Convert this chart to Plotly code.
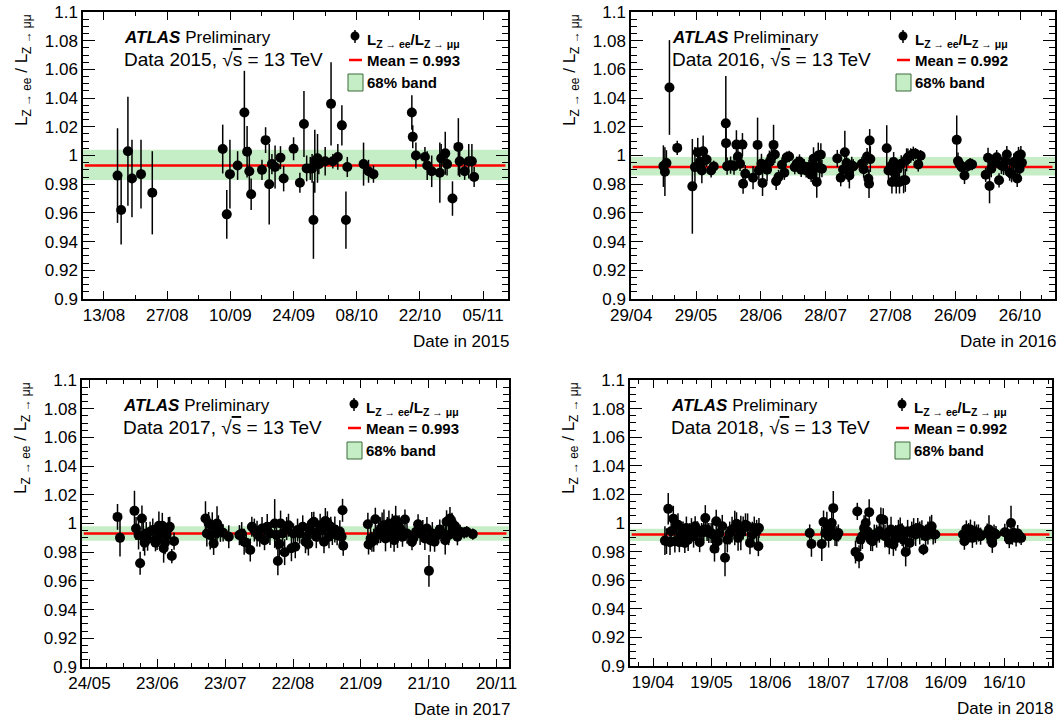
import pandas as pd
import plotly.graph_objects as go

W, H = 1062, 723
FONT = "Liberation Sans, Arial, Helvetica, sans-serif"

# ---------------------------------------------------------------- data
# time of each measurement, in days since 1 January of that year
doy_2015 = [227.0, 227.8, 229.3, 230.2, 232.2, 234.7, 250.3, 251.2, 251.9, 253.6,
            255.1, 255.7, 256.2, 256.6, 259.0, 259.8, 260.6, 261.2, 261.9, 263.1,
            263.8, 266.0, 267.4, 268.3, 268.9, 269.7, 270.1, 270.4, 270.7, 271.3,
            271.6, 273.0, 274.3, 274.7, 275.8, 276.7, 277.6, 277.9, 281.5, 282.6,
            283.7, 292.2, 292.4, 293.1, 295.1, 295.6, 296.6, 298.4, 298.7, 299.6,
            300.0, 301.2, 302.5, 302.8, 303.9, 304.8, 305.5, 306.0]
ratio_2015 = [0.986, 0.962, 1.003, 0.984, 0.987, 0.974, 1.0045, 0.959, 0.987, 0.993,
              1.030, 1.0026, 0.989, 0.973, 0.990, 1.0107, 0.980, 0.994, 0.992, 0.9985,
              0.984, 1.0047, 0.981, 1.022, 0.991, 0.991, 0.991, 0.955, 0.996, 0.998,
              0.994, 0.996, 1.036, 0.996, 0.999, 1.021, 0.955, 0.992, 0.994, 0.989,
              0.987, 1.030, 1.013, 1.000, 0.999, 0.993, 0.989, 0.988, 0.998, 1.0015,
              0.994, 0.970, 1.006, 0.996, 0.989, 0.996, 0.996, 0.985]
err_2015 = [0.033, 0.024, 0.038, 0.027, 0.024, 0.029, 0.017, 0.017, 0.024, 0.010,
            0.029, 0.018, 0.017, 0.011, 0.007, 0.009, 0.028, 0.007, 0.015, 0.008,
            0.009, 0.008, 0.007, 0.023, 0.009, 0.008, 0.010, 0.027, 0.022, 0.017,
            0.007, 0.010, 0.029, 0.005, 0.009, 0.014, 0.020, 0.007, 0.015, 0.008,
            0.006, 0.012, 0.008, 0.009, 0.007, 0.010, 0.011, 0.021, 0.010, 0.015,
            0.008, 0.012, 0.020, 0.011, 0.006, 0.012, 0.012, 0.007]

doy_2016 = [133.9, 134.6, 135.3, 136.7, 140.3, 147.3, 148.5, 149.8, 150.8, 151.7,
            152.3, 153.0, 153.9, 156.0, 157.2, 162.8, 162.9, 163.4, 165.0, 166.6,
            167.7, 168.4, 169.4, 170.5, 170.8, 171.8, 175.4, 177.5, 178.1, 179.3,
            179.8, 181.9, 183.0, 183.9, 184.9, 185.5, 186.1, 187.2, 188.8, 189.9,
            191.0, 192.1, 194.7, 195.6, 196.9, 197.7, 199.1, 200.0, 201.3, 202.3,
            203.4, 204.2, 204.9, 205.6, 206.2, 206.8, 207.3, 214.4, 216.0, 217.1,
            217.9, 218.7, 219.5, 220.0, 221.1, 221.8, 225.8, 226.6, 228.2, 228.8,
            229.1, 229.4, 229.7, 237.3, 238.1, 239.2, 239.7, 240.5, 241.1, 241.7,
            242.4, 243.2, 244.0, 245.1, 245.9, 246.5, 247.1, 248.4, 249.6, 250.6,
            251.9, 253.0, 269.7, 270.3, 271.1, 272.1, 273.3, 274.8, 275.9, 276.8,
            283.1, 284.2, 284.9, 285.7, 286.6, 287.4, 288.2, 289.3, 290.4, 291.4,
            292.3, 292.9, 294.2, 295.1, 296.1, 297.0, 297.7, 298.3, 298.8, 299.4,
            299.9]
ratio_2016 = [0.9926, 0.9887, 0.9947, 1.0474, 1.0053, 0.9785, 0.9919, 1.0023, 0.9956, 0.9896,
              1.0030, 0.9965, 0.9972, 0.9896, 0.9924, 1.0224, 1.0086, 0.9926, 0.9933, 0.9926,
              1.0076, 0.9993, 0.9942, 1.0076, 0.9803, 0.9873, 0.9845, 1.0074, 0.9896, 0.9942,
              0.9808, 0.9901, 0.9954, 0.9988, 1.0074, 1.0007, 0.9820, 0.9850, 0.9935, 0.9880,
              0.9988, 0.9993, 0.9919, 0.9942, 0.9958, 0.9901, 0.9924, 0.9896, 0.9919, 0.9866,
              0.9977, 0.9919, 0.9815, 1.0000, 0.9914, 1.0005, 0.9908, 0.9979, 0.9845, 0.9903,
              1.0023, 0.9947, 0.9896, 0.9861, 0.9931, 0.9924, 0.9942, 0.9905, 0.9993, 0.9838,
              0.9803, 1.0104, 0.9975, 1.0051, 0.9896, 0.9924, 0.9815, 0.9954, 0.9873, 0.9815,
              0.9908, 0.9815, 0.9942, 0.9827, 0.9827, 0.9970, 0.9988, 1.0000, 1.0012, 1.0012,
              0.9938, 0.9998, 1.0109, 0.9961, 0.9938, 0.9919, 0.9861, 0.9926, 0.9942, 0.9938,
              0.9866, 0.9984, 0.9787, 0.9908, 0.9942, 0.9954, 0.9988, 0.9827, 0.9931, 0.9924,
              0.9961, 1.0007, 0.9884, 0.9873, 0.9954, 0.9942, 0.9840, 1.0000, 0.9908, 1.0007,
              0.9949]
err_2016 = [0.0145, 0.017, 0.009, 0.033, 0.005, 0.033, 0.014, 0.010, 0.008, 0.009,
            0.011, 0.009, 0.005, 0.005, 0.004, 0.033, 0.012, 0.006, 0.006, 0.006,
            0.010, 0.007, 0.005, 0.008, 0.007, 0.006, 0.008, 0.019, 0.007, 0.007,
            0.009, 0.008, 0.008, 0.006, 0.014, 0.006, 0.006, 0.005, 0.005, 0.005,
            0.004, 0.004, 0.005, 0.005, 0.005, 0.005, 0.005, 0.005, 0.005, 0.005,
            0.008, 0.009, 0.011, 0.009, 0.008, 0.008, 0.006, 0.006, 0.006, 0.006,
            0.015, 0.006, 0.008, 0.009, 0.006, 0.005, 0.005, 0.006, 0.006, 0.006,
            0.010, 0.008, 0.009, 0.016, 0.006, 0.006, 0.008, 0.007, 0.006, 0.008,
            0.006, 0.008, 0.006, 0.009, 0.008, 0.008, 0.006, 0.005, 0.005, 0.004,
            0.005, 0.004, 0.017, 0.006, 0.005, 0.005, 0.006, 0.004, 0.004, 0.004,
            0.005, 0.007, 0.012, 0.006, 0.006, 0.006, 0.005, 0.005, 0.006, 0.006,
            0.006, 0.006, 0.006, 0.006, 0.006, 0.006, 0.006, 0.006, 0.006, 0.006,
            0.006]

doy_2017 = [155.4, 156.5, 162.9, 163.6, 164.7, 165.4, 166.2, 166.8, 167.4, 168.1,
            168.7, 169.8, 171.0, 172.2, 172.9, 173.7, 174.4, 175.2, 175.8, 176.4,
            177.1, 177.9, 178.5, 179.4, 180.4, 194.3, 194.9, 195.7, 196.4, 197.3,
            197.9, 198.8, 199.4, 200.0, 200.9, 202.1, 204.6, 209.3, 210.3, 211.4,
            212.3, 214.1, 214.8, 215.9, 217.1, 218.3, 219.3, 220.4, 221.6, 222.8,
            224.9, 225.7, 226.3, 226.9, 227.5, 228.4, 229.3, 230.2, 231.0, 232.3,
            233.2, 234.0, 235.0, 235.9, 237.3, 238.5, 239.2, 239.8, 240.4, 241.3,
            242.2, 243.3, 244.0, 245.0, 245.9, 246.7, 247.3, 248.2, 248.9, 249.7,
            250.4, 251.5, 252.5, 253.7, 254.5, 254.9, 255.2, 266.1, 266.4, 267.3,
            267.9, 268.7, 269.4, 270.2, 270.9, 271.7, 272.4, 273.2, 273.9, 274.7,
            275.4, 276.2, 276.9, 277.7, 278.4, 279.2, 279.9, 280.7, 281.4, 282.5,
            283.4, 285.6, 286.2, 287.4, 288.3, 289.2, 290.4, 291.3, 292.2, 293.1,
            293.7, 294.6, 295.6, 296.7, 297.9, 299.4, 300.3, 300.9, 301.8, 302.4,
            303.3, 303.9, 304.6, 305.7, 306.9, 308.7, 309.8, 312.5]
ratio_2017 = [1.0046, 0.9900, 1.0088, 0.9965, 0.9919, 0.9723, 1.0035, 0.9908, 0.9866, 0.9930,
              0.9890, 0.9942, 0.9954, 0.9866, 0.9896, 0.9984, 0.9930, 0.9984, 0.9827, 0.9866,
              0.9919, 0.9965, 0.9977, 0.9773, 0.9877, 1.0035, 0.9930, 1.0000, 0.9919, 0.9988,
              0.9861, 0.9930, 1.0000, 0.9977, 0.9942, 0.9935, 0.9908, 0.9919, 0.9930, 0.9873,
              0.9866, 0.9815, 0.9977, 0.9954, 0.9930, 0.9908, 0.9965, 0.9884, 0.9977, 0.9930,
              1.0000, 0.9919, 0.9739, 0.9857, 1.0000, 0.9930, 0.9800, 0.9965, 0.9988, 0.9827,
              0.9930, 0.9838, 0.9954, 0.9930, 0.9977, 0.9873, 0.9908, 0.9857, 0.9949, 1.0000,
              1.0012, 0.9908, 0.9942, 0.9988, 0.9954, 0.9873, 1.0018, 1.0005, 0.9908, 0.9977,
              0.9930, 0.9958, 0.9919, 0.9942, 0.9908, 1.0092, 0.9845, 0.9995, 0.9854, 0.9896,
              0.9873, 0.9884, 1.0030, 0.9919, 0.9942, 0.9954, 0.9977, 0.9988, 0.9896, 0.9965,
              1.0000, 0.9930, 0.9977, 0.9884, 1.0023, 0.9919, 0.9977, 0.9954, 0.9908, 1.0028,
              0.9930, 0.9873, 0.9896, 0.9942, 0.9995, 0.9930, 0.9954, 0.9896, 0.9965, 0.9670,
              0.9884, 0.9930, 0.9873, 0.9919, 0.9958, 0.9930, 0.9884, 1.0012, 0.9919, 1.0035,
              1.0005, 0.9965, 0.9982, 0.9908, 0.9942, 0.9935, 0.9942, 0.9926]
err_2017 = [0.009, 0.013, 0.014, 0.008, 0.010, 0.008, 0.009, 0.010, 0.009, 0.008,
            0.008, 0.007, 0.008, 0.006, 0.008, 0.010, 0.007, 0.009, 0.010, 0.008,
            0.008, 0.008, 0.007, 0.005, 0.006, 0.012, 0.009, 0.008, 0.010, 0.009,
            0.008, 0.010, 0.012, 0.008, 0.007, 0.006, 0.008, 0.007, 0.008, 0.009,
            0.007, 0.008, 0.007, 0.008, 0.009, 0.007, 0.008, 0.007, 0.009, 0.008,
            0.017, 0.010, 0.010, 0.010, 0.009, 0.010, 0.009, 0.008, 0.008, 0.009,
            0.007, 0.008, 0.008, 0.007, 0.008, 0.008, 0.009, 0.008, 0.007, 0.008,
            0.007, 0.008, 0.007, 0.008, 0.007, 0.008, 0.009, 0.008, 0.008, 0.007,
            0.008, 0.009, 0.007, 0.008, 0.007, 0.008, 0.007, 0.008, 0.007, 0.008,
            0.007, 0.008, 0.008, 0.007, 0.008, 0.009, 0.010, 0.011, 0.009, 0.008,
            0.009, 0.010, 0.009, 0.008, 0.010, 0.009, 0.008, 0.008, 0.007, 0.007,
            0.007, 0.006, 0.006, 0.007, 0.007, 0.008, 0.007, 0.008, 0.008, 0.011,
            0.008, 0.008, 0.007, 0.007, 0.007, 0.007, 0.010, 0.008, 0.007, 0.008,
            0.007, 0.007, 0.006, 0.006, 0.005, 0.004, 0.004, 0.004]

doy_2018 = [114.1, 114.9, 115.8, 116.7, 117.3, 118.4, 119.2, 119.9, 120.8, 121.5,
            122.5, 123.4, 124.3, 125.1, 126.0, 126.9, 127.7, 128.8, 129.6, 130.8,
            131.9, 132.9, 134.0, 134.8, 135.7, 136.6, 137.8, 138.6, 139.5, 140.4,
            141.2, 142.1, 143.5, 144.9, 146.1, 147.3, 148.5, 149.9, 150.8, 151.6,
            153.0, 154.2, 155.4, 156.5, 157.7, 158.9, 159.9, 161.1, 162.0, 162.3,
            188.3, 189.2, 194.5, 195.4, 196.3, 197.1, 198.0, 198.9, 199.6, 200.4,
            201.3, 202.2, 203.0, 211.8, 212.7, 213.6, 214.4, 215.3, 216.2, 217.0,
            217.9, 218.8, 219.6, 220.5, 221.4, 222.6, 224.0, 224.8, 226.0, 226.9,
            228.1, 229.1, 230.0, 231.2, 232.4, 233.8, 234.7, 235.7, 236.4, 237.5,
            238.5, 239.5, 240.6, 241.6, 242.6, 243.7, 244.7, 245.8, 246.6, 247.7,
            248.9, 249.9, 250.8, 251.6, 252.7, 266.9, 267.6, 268.6, 269.8, 270.7,
            271.7, 272.8, 273.8, 274.8, 275.9, 279.3, 280.2, 281.1, 281.9, 282.8,
            283.8, 288.3, 289.6, 290.6, 291.5, 292.2, 293.0, 294.1, 294.9, 295.8,
            296.7]
ratio_2018 = [0.9877, 0.9873, 1.0099, 0.9866, 0.9942, 1.0030, 0.9873, 0.9977, 0.9988, 0.9866,
              0.9919, 0.9930, 0.9861, 0.9965, 0.9884, 0.9930, 0.9954, 0.9908, 0.9977, 0.9942,
              0.9866, 0.9930, 0.9954, 1.0035, 0.9954, 0.9930, 0.9930, 0.9919, 0.9820, 1.0012,
              0.9873, 0.9930, 0.9977, 0.9757, 0.9884, 0.9930, 0.9954, 0.9965, 0.9995, 0.9896,
              0.9930, 0.9965, 0.9988, 0.9977, 0.9861, 0.9919, 0.9965, 0.9942, 0.9838, 0.9965,
              0.9930, 0.9854, 0.9854, 1.0007, 0.9930, 0.9988, 0.9908, 0.9954, 1.0000, 1.0104,
              0.9919, 0.9908, 0.9930, 0.9797, 1.0081, 0.9764, 0.9884, 0.9908, 0.9965, 1.0000,
              0.9942, 1.0076, 0.9884, 0.9873, 0.9919, 0.9908, 0.9942, 1.0028, 1.0023, 0.9908,
              0.9930, 0.9861, 0.9954, 0.9850, 0.9896, 0.9942, 0.9958, 0.9919, 0.9884, 0.9797,
              0.9942, 0.9861, 0.9930, 0.9954, 0.9919, 0.9965, 0.9930, 0.9949, 0.9815, 0.9908,
              0.9930, 0.9965, 0.9977, 0.9919, 0.9919, 0.9919, 0.9873, 0.9958, 0.9930, 0.9954,
              0.9896, 0.9942, 0.9919, 0.9930, 0.9908, 0.9926, 0.9954, 0.9903, 0.9861, 0.9930,
              0.9919, 0.9935, 0.9926, 0.9884, 1.0000, 0.9908, 0.9930, 0.9896, 0.9926, 0.9908,
              0.9896]
err_2018 = [0.010, 0.009, 0.011, 0.009, 0.008, 0.009, 0.008, 0.008, 0.008, 0.007,
            0.008, 0.008, 0.007, 0.008, 0.008, 0.007, 0.008, 0.008, 0.007, 0.007,
            0.007, 0.007, 0.008, 0.009, 0.008, 0.007, 0.007, 0.008, 0.009, 0.008,
            0.008, 0.008, 0.008, 0.013, 0.009, 0.008, 0.009, 0.012, 0.008, 0.009,
            0.012, 0.008, 0.008, 0.009, 0.008, 0.009, 0.008, 0.008, 0.007, 0.007,
            0.006, 0.009, 0.012, 0.008, 0.008, 0.009, 0.008, 0.008, 0.009, 0.012,
            0.008, 0.007, 0.006, 0.008, 0.006, 0.008, 0.008, 0.009, 0.009, 0.010,
            0.008, 0.009, 0.008, 0.007, 0.007, 0.008, 0.008, 0.008, 0.008, 0.008,
            0.008, 0.008, 0.009, 0.008, 0.009, 0.008, 0.008, 0.008, 0.008, 0.010,
            0.008, 0.008, 0.008, 0.008, 0.008, 0.007, 0.008, 0.007, 0.004, 0.008,
            0.008, 0.008, 0.008, 0.007, 0.006, 0.006, 0.006, 0.006, 0.007, 0.007,
            0.007, 0.007, 0.007, 0.006, 0.006, 0.007, 0.010, 0.007, 0.007, 0.006,
            0.006, 0.006, 0.006, 0.006, 0.012, 0.006, 0.006, 0.006, 0.006, 0.005,
            0.005]

years = [2015, 2016, 2017, 2018]
mean_values = [0.993, 0.992, 0.993, 0.992]
band_low = [0.983, 0.986, 0.988, 0.9875]
band_high = [1.004, 0.999, 0.998, 0.996]

y_tick_values = [0.9, 0.92, 0.94, 0.96, 0.98, 1.0, 1.02, 1.04, 1.06, 1.08, 1.1]
y_tick_labels = ["0.9", "0.92", "0.94", "0.96", "0.98", "1", "1.02", "1.04", "1.06", "1.08", "1.1"]

series = {
    2015: (doy_2015, ratio_2015, err_2015),
    2016: (doy_2016, ratio_2016, err_2016),
    2017: (doy_2017, ratio_2017, err_2017),
    2018: (doy_2018, ratio_2018, err_2018),
}

# ---------------------------------------------------------------- layout of pads
# frame edges in pixels: left, top, right, bottom
frames = [(83, 12, 508, 299), (631, 12, 1055, 299), (82, 380, 509, 667), (630, 380, 1052, 666)]
# visible time window (days since 1 January) and time-axis divisions
x_windows = [(219.35, 313.5), (118.9, 315.2), (139.7, 328.5), (96.2, 312.5)]
first_ticks = ["2015-08-13", "2016-04-29", "2017-05-24", "2018-04-19"]
major_days = [14, 30, 30, 30]
minor_days = [7, 10, 7.5, 7.5]

DAY_MS = 86400000


def to_time(year, days):
    base = pd.Timestamp(f"{year}-01-01")
    return [base + pd.Timedelta(days=float(d)) for d in days]


def px(x):
    return x / W


def py(y):
    return 1 - y / H


fig = go.Figure()
shapes = []
annotations = []

for i, year in enumerate(years):
    n = i + 1
    sfx = "" if n == 1 else str(n)
    left, top, right, bottom = frames[i]
    days, ratio, err = series[year]
    lo_day, hi_day = x_windows[i]
    x_range = [t.strftime("%Y-%m-%d %H:%M:%S") for t in to_time(year, [lo_day, hi_day])]

    fig.add_trace(go.Scatter(
        x=to_time(year, days), y=ratio, mode="markers",
        marker=dict(size=10, color="black"),
        error_y=dict(type="data", array=err, color="black", thickness=1.5, width=0),
        xaxis=f"x{sfx}", yaxis=f"y{sfx}", showlegend=False, hoverinfo="skip",
    ))

    fig.layout[f"xaxis{sfx}"] = dict(
        domain=[px(left), px(right)], anchor=f"y{sfx}", type="date", range=x_range,
        automargin=False,
        tickformat="%d/%m", tick0=first_ticks[i], dtick=major_days[i] * DAY_MS,
        ticks="inside", ticklen=8, tickwidth=1.2, tickcolor="black",
        showline=True, linecolor="black", linewidth=1.5, mirror="ticks",
        showgrid=False, zeroline=False,
        tickfont=dict(family=FONT, size=17, color="black"),
        minor=dict(dtick=minor_days[i] * DAY_MS, tick0=first_ticks[i], ticks="inside",
                   ticklen=4, tickwidth=1.2, tickcolor="black", showgrid=False),
    )
    fig.layout[f"yaxis{sfx}"] = dict(
        domain=[py(bottom), py(top)], anchor=f"x{sfx}", range=[0.9, 1.1],
        automargin=False,
        tickmode="array", tickvals=y_tick_values, ticktext=y_tick_labels,
        ticks="inside", ticklen=12, tickwidth=1.2, tickcolor="black",
        showline=True, linecolor="black", linewidth=1.5, mirror="ticks",
        showgrid=False, zeroline=False,
        tickfont=dict(family=FONT, size=17, color="black"),
        minor=dict(dtick=0.005, tick0=0.9, ticks="inside", ticklen=6, tickwidth=1.2,
                   tickcolor="black", showgrid=False),
    )

    # 68% band and mean line
    shapes.append(dict(type="rect", xref=f"x{sfx} domain", yref=f"y{sfx}", x0=0, x1=1,
                       y0=band_low[i], y1=band_high[i], fillcolor="#c6eec6",
                       line=dict(width=0), layer="below"))
    shapes.append(dict(type="line", xref=f"x{sfx} domain", yref=f"y{sfx}", x0=0.004, x1=0.994,
                       y0=mean_values[i], y1=mean_values[i], line=dict(color="#ff0000", width=2.5),
                       layer="below"))

    # ATLAS label
    annotations.append(dict(
        xref="paper", yref="paper", x=px(left + 39), y=py(top + 25), xanchor="left", yanchor="middle",
        text="<b><i>ATLAS</i></b> Preliminary", showarrow=False,
        font=dict(family=FONT, size=17, color="black")))
    annotations.append(dict(
        xref="paper", yref="paper", x=px(left + 39), y=py(top + 47), xanchor="left", yanchor="middle",
        text=f"Data {year}, √<span style='text-decoration:overline'>s</span> = 13 TeV",
        showarrow=False, font=dict(family=FONT, size=19, color="black")))

    # legend
    lx = left + 272
    shapes.append(dict(type="line", xref="paper", yref="paper", x0=px(lx), x1=px(lx),
                       y0=py(top + 18), y1=py(top + 31), line=dict(color="black", width=1.5)))
    shapes.append(dict(type="circle", xref="paper", yref="paper", x0=px(lx - 4.5), x1=px(lx + 4.5),
                       y0=py(top + 19.5), y1=py(top + 28.5), fillcolor="black",
                       line=dict(color="black", width=0)))
    shapes.append(dict(type="line", xref="paper", yref="paper", x0=px(lx - 6), x1=px(lx + 7),
                       y0=py(top + 48), y1=py(top + 48), line=dict(color="#ff0000", width=2.5)))
    shapes.append(dict(type="rect", xref="paper", yref="paper", x0=px(lx - 7), x1=px(lx + 8),
                       y0=py(top + 79), y1=py(top + 62), fillcolor="#c6eec6",
                       line=dict(color="#3a6a3a", width=1)))
    legend_font = dict(family=FONT, size=15, color="black")
    annotations.append(dict(
        xref="paper", yref="paper", x=px(lx + 10), y=py(top + 28), xanchor="left", yanchor="middle",
        text="<b>L<sub>Z → ee</sub>/L<sub>Z → μμ</sub></b>", showarrow=False, font=legend_font))
    annotations.append(dict(
        xref="paper", yref="paper", x=px(lx + 10), y=py(top + 48), xanchor="left", yanchor="middle",
        text=f"<b>Mean = {mean_values[i]:.3f}</b>", showarrow=False, font=legend_font))
    annotations.append(dict(
        xref="paper", yref="paper", x=px(lx + 10), y=py(top + 70), xanchor="left", yanchor="middle",
        text="<b>68% band</b>", showarrow=False, font=legend_font))

    # axis titles
    annotations.append(dict(
        xref="paper", yref="paper", x=px(right + 3), y=py(bottom + 42), xanchor="right", yanchor="middle",
        text=f"Date in {year}", showarrow=False, font=dict(family=FONT, size=17, color="black")))
    annotations.append(dict(
        xref="paper", yref="paper", x=px(left - 60), y=py(top), xanchor="center", yanchor="top",
        text="L<sub>Z → ee</sub> / L<sub>Z → μμ</sub>", textangle=-90, showarrow=False,
        font=dict(family=FONT, size=17, color="black")))

fig.update_layout(
    width=W, height=H, margin=dict(l=0, r=0, t=0, b=0),
    paper_bgcolor="white", plot_bgcolor="white",
    shapes=shapes, annotations=annotations, showlegend=False,
    font=dict(family=FONT, color="black"),
)

fig.write_html("out.html")
